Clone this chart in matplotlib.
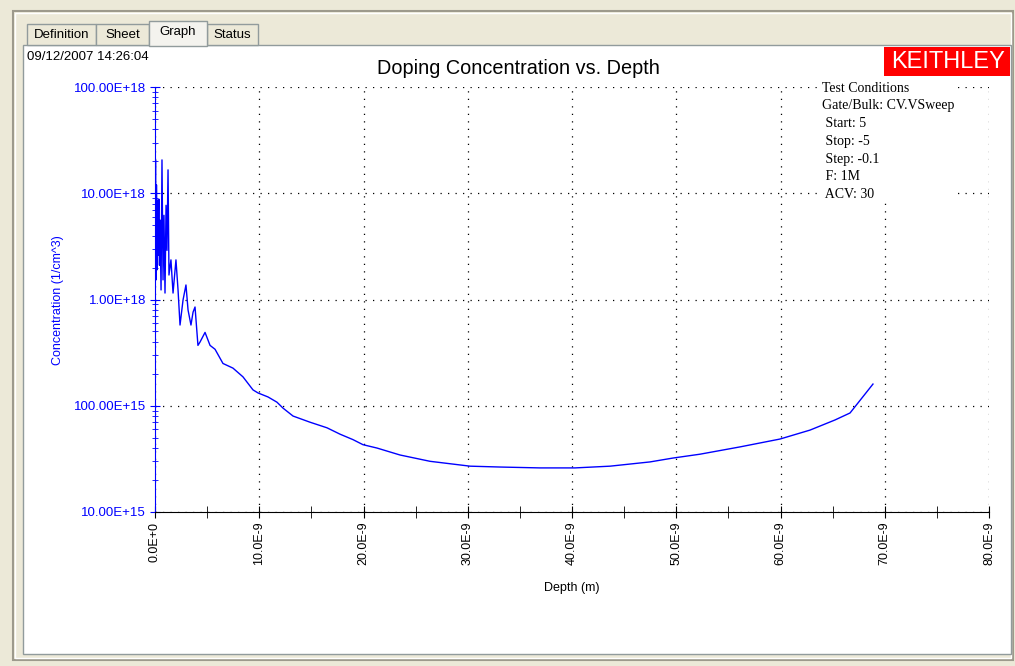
import matplotlib.pyplot as plt
from matplotlib.patches import Rectangle
from matplotlib.ticker import FuncFormatter, MultipleLocator, LogLocator, NullFormatter
import numpy as np

W, H = 1015, 666

# depth in nm, concentration in 1/cm^3
depth_nm = [0.00, 0.05, 0.10, 0.14, 0.19, 0.24, 0.29, 0.34, 0.38, 0.43, 0.48,
            0.58, 0.67, 0.77, 0.86, 0.96, 1.06, 1.15, 1.25, 1.34, 1.53, 1.73,
            2.01, 2.21, 2.40, 2.69, 2.97, 3.17, 3.45, 3.65, 3.84, 4.12, 4.32,
            4.80, 5.28, 5.76, 6.52, 7.48, 8.44, 9.40, 9.88, 10.84, 11.70,
            12.28, 13.24, 14.87, 16.50, 17.75, 18.99, 19.95, 21.29, 23.50,
            26.38, 30.22, 33.09, 36.93, 40.29, 43.65, 47.48, 49.69, 52.28,
            56.12, 59.95, 62.83, 65.23, 66.67, 68.87]
conc = [2.9e18, 2.06e19, 1.53e18, 1.2e19, 1.9e18, 8.6e18, 2.6e18, 7.0e18,
        8.8e18, 2.1e18, 5.6e18, 1.23e18, 2.06e19, 1.53e18, 6.2e18, 1.15e18,
        7.7e18, 2.9e18, 1.66e19, 1.7e18, 2.36e18, 1.15e18, 2.36e18, 1.23e18,
        5.75e17, 9.9e17, 1.37e18, 7.96e17, 5.75e17, 7.6e17, 8.5e17, 3.7e17,
        3.98e17, 4.9e17, 3.7e17, 3.4e17, 2.5e17, 2.26e17, 1.87e17, 1.41e17,
        1.32e17, 1.21e17, 1.08e17, 9.5e16, 8.0e16, 7.0e16, 6.2e16, 5.4e16,
        4.8e16, 4.3e16, 4.0e16, 3.44e16, 3.0e16, 2.7e16, 2.65e16, 2.6e16,
        2.6e16, 2.7e16, 2.96e16, 3.22e16, 3.5e16, 4.1e16, 4.86e16, 5.9e16,
        7.35e16, 8.55e16, 1.6e17]

test_conditions = ["Test Conditions", "Gate/Bulk: CV.VSweep", " Start: 5",
                   " Stop: -5", " Step: -0.1", " F: 1M", " ACV: 30"]
tab_names = ["Definition", "Sheet", "Graph", "Status"]
tab_edges = [27, 96, 149, 207, 258]

BLUE = "#0000FF"
BEIGE = "#ECE9D8"
SANS = "Liberation Sans"
SERIF = "Liberation Serif"


def fx(px):
    return px / W


def fy(py):
    return 1 - py / H


def eng_y(v, pos):
    if v <= 0:
        return ""
    exp = int(np.floor(np.log10(v) + 1e-9))
    e3 = (exp // 3) * 3
    return f"{v / 10 ** e3:.2f}E+{e3}"


def eng_x(v, pos):
    if abs(v) < 1e-15:
        return "0.0E+0"
    return f"{v * 1e9:.1f}E-9"


def pixel_axes(z):
    a = fig.add_axes([0, 0, 1, 1], zorder=z)
    a.set_xlim(0, W)
    a.set_ylim(H, 0)
    a.axis("off")
    a.patch.set_alpha(0)
    return a


fig = plt.figure(figsize=(W / 100, H / 100), dpi=100, facecolor=BEIGE)

# window chrome drawn in pixel coordinates
bg = pixel_axes(-5)
bg.add_patch(Rectangle((13, 11), 1000, 649, fill=False, edgecolor="#9D9A8C", lw=1.5))
bg.add_patch(Rectangle((15, 13), 996, 645, fill=False, edgecolor="white", lw=1))
bg.add_patch(Rectangle((23, 45), 988, 609, facecolor="white", edgecolor="#919B9C", lw=1))
for i, name in enumerate(tab_names):
    x0, x1 = tab_edges[i], tab_edges[i + 1]
    sel = name == "Graph"
    top = 21 if sel else 24
    bg.add_patch(Rectangle((x0, top), x1 - x0, 45 - top + (1 if sel else 0),
                           facecolor="#F4F3EE" if sel else BEIGE,
                           edgecolor="#919B9C", lw=1, zorder=3 if sel else 2))
    bg.text((x0 + x1) / 2, 32 if sel else 35, name, ha="center", va="center",
            fontsize=9.5, family=SANS, zorder=4)
bg.add_patch(Rectangle((884, 47), 126, 29, facecolor="#FF0000", edgecolor="none"))
bg.text(948, 62, "KEITHLEY", ha="center", va="center", color="white",
        fontsize=17, family=SANS)
bg.text(27, 57, "09/12/2007 14:26:04", ha="left", va="center", fontsize=9.5,
        family=SANS)
bg.text(518, 69, "Doping Concentration vs. Depth", ha="center", va="center",
        fontsize=14.3, family=SANS)
bg.text(58, 300, "Concentration (1/cm^3)", rotation=90, ha="center", va="center",
        color=BLUE, fontsize=9, family=SANS)
bg.text(572, 588, "Depth (m)", ha="center", va="center", fontsize=9, family=SANS)

# plot area
ax = fig.add_axes([fx(155), fy(512), fx(989 - 155), (512 - 87) / H])
ax.set_facecolor("none")
ax.plot(np.array(depth_nm) * 1e-9, conc, color=BLUE, lw=1)
ax.set_yscale("log")
ax.set_xlim(0, 80e-9)
ax.set_ylim(1e16, 1e20)

ax.xaxis.set_major_locator(MultipleLocator(10e-9))
ax.xaxis.set_minor_locator(MultipleLocator(5e-9))
ax.xaxis.set_major_formatter(FuncFormatter(eng_x))
ax.yaxis.set_major_locator(LogLocator(base=10, numticks=10))
ax.yaxis.set_minor_locator(LogLocator(base=10, subs=np.arange(2, 10), numticks=20))
ax.yaxis.set_major_formatter(FuncFormatter(eng_y))
ax.yaxis.set_minor_formatter(NullFormatter())

ax.tick_params(axis="x", which="both", direction="inout", colors="black",
               labelsize=9, pad=3, length=8)
ax.tick_params(axis="y", which="both", direction="inout", colors=BLUE,
               labelsize=9.5, pad=3)
ax.tick_params(axis="y", which="major", length=7)
ax.tick_params(axis="y", which="minor", length=5)
for lab in ax.get_xticklabels():
    lab.set_rotation(90)
    lab.set_family(SANS)
for lab in ax.get_yticklabels():
    lab.set_family(SANS)

ax.spines["top"].set_visible(False)
ax.spines["right"].set_visible(False)
ax.spines["left"].set_color(BLUE)
ax.spines["bottom"].set_color("black")
ax.grid(True, which="major", color="black", linestyle=(0, (1, 5)), lw=0.9)

# test conditions box sits on top of the grid
ov = pixel_axes(5)
ov.add_patch(Rectangle((818, 80), 140, 123, facecolor="white", edgecolor="none"))
for i, line in enumerate(test_conditions):
    ov.text(822, 88 + i * 17.8, line, ha="left", va="center", fontsize=10,
            family=SERIF)

fig.savefig("out.png", dpi=100, facecolor=BEIGE)
